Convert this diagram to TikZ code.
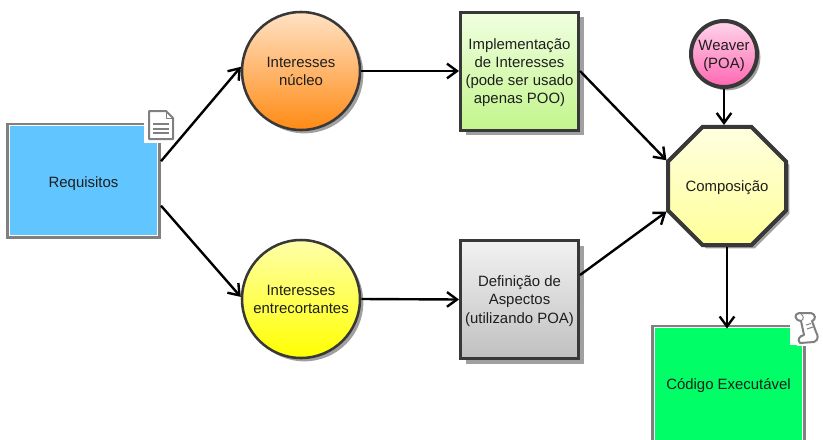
\documentclass[tikz,border=0pt]{standalone}
\usepackage{fontspec}
\setmainfont{Liberation Sans}
\usetikzlibrary{arrows.meta,shapes.geometric,shadows}

\definecolor{edgedark}{RGB}{56,56,56}
\definecolor{edgegray}{RGB}{128,128,128}
\definecolor{shadowgray}{RGB}{160,160,160}
\definecolor{textdark}{RGB}{30,30,30}

\tikzset{every picture/.style={line width=0.75pt}}
\tikzset{
	label font/.style={font=\fontsize{11.2pt}{13.6pt}\selectfont,text=textdark,align=center,text depth=0pt},
	filebox/.style={label font,draw=edgegray,line width=2.25pt,minimum width=114pt,minimum height=84.75pt,inner sep=0pt},
	ballnode/.style={label font,circle,draw=edgedark,line width=1.9pt,minimum size=88.5pt,inner sep=0pt,
		general shadow={fill=shadowgray,shadow xshift=2.5pt,shadow yshift=-2.5pt}},
	taskbox/.style={label font,draw=edgedark,line width=2.25pt,minimum width=88.5pt,minimum height=88.5pt,inner sep=0pt,
		general shadow={fill=shadowgray,shadow xshift=4pt,shadow yshift=-4pt}},
	link/.style={draw=black,line width=1.8pt,-{Straight Barb[length=7.5pt,width=11pt,line width=1.8pt]}},
	iconline/.style={draw=edgegray,line width=1.5pt,fill=white,line join=round}
}

\begin{document}
\begin{tikzpicture}[x=0.75pt,y=0.75pt,yscale=-1,xscale=1]
	\useasboundingbox (0,0) rectangle (823,439);

	% Text Node
	\node[filebox,text height=11pt,fill={rgb,255:red,97;green,197;blue,255}] (req) at (83.5,180.5) {Requisitos};
	\draw[white,line width=0.75pt] (9.5,125.5) rectangle (157.5,235);
	% Text Node
	\node[ballnode,top color={rgb,255:red,255;green,226;blue,196},bottom color={rgb,255:red,255;green,138;blue,20}] (nucleo) at (301,71) {Interesses\\núcleo};
	% Text Node
	\node[ballnode,top color={rgb,255:red,255;green,255;blue,170},bottom color={rgb,255:red,255;green,255;blue,0}] (entre) at (301,299) {Interesses\\entrecortantes};
	% Text Node
	\node[taskbox,top color={rgb,255:red,240;green,255;blue,224},bottom color={rgb,255:red,195;green,245;blue,140}] (impl) at (519.5,71) {Implementação\\de Interesses\\(pode ser usado\\apenas POO)};
	% Text Node
	\node[taskbox,top color={rgb,255:red,242;green,242;blue,242},bottom color={rgb,255:red,192;green,192;blue,192}] (aspect) at (519.5,299.5) {Definição de\\Aspectos\\(utilizando POA)};
	% Text Node
	\node[ballnode,line width=3pt,minimum size=49.5pt,top color={rgb,255:red,255;green,214;blue,235},bottom color={rgb,255:red,255;green,102;blue,178}] (weaver) at (724,54) {Weaver\\(POA)};
	% Text Node
	\node[label font,regular polygon,regular polygon sides=8,draw=edgedark,line width=3pt,minimum size=95.8pt,inner sep=0pt,
		top color={rgb,255:red,255;green,255;blue,224},bottom color={rgb,255:red,255;green,255;blue,153},
		general shadow={fill=shadowgray,shadow xshift=2.5pt,shadow yshift=-2.5pt}] (comp) at (727,186) {Composição};
	% Text Node
	\node[filebox,fill={rgb,255:red,0;green,255;blue,102},minimum height=87pt] (exe) at (728.5,384) {Código Executável};
	\draw[white,line width=0.75pt] (654.5,327.5) rectangle (802.5,460);

	%Shape: Document icon
	\fill[white] (144,108) rectangle (178,143);
	\draw[iconline] (149,111) -- (166,111) -- (173,118) -- (173,139) -- (149,139) -- cycle;
	\draw[edgegray,line width=0.75pt] (166,111) -- (166,118) -- (173,118);
	\draw[edgegray,line width=1.5pt] (153,124) -- (169,124) (153,128.5) -- (169,128.5) (153,133) -- (169,133);

	%Shape: Scroll icon
	\fill[white] (797,320) rectangle (810,346);
	\fill[white] (790,308) rectangle (823,345);
	\draw[iconline] (801,321) -- (804,335) .. controls (799,336) and (797,340) .. (800,343) -- (814,342) .. controls (819,340) and (818,335) .. (816,332) -- (812,321) .. controls (816,320) and (816,314) .. (811,313) -- (799,313) .. controls (794,314) and (794,320) .. (801,321) -- cycle;
	\draw[edgegray,line width=0.75pt] (801,314) .. controls (804,316) and (804,319) .. (801,321);
	\draw[edgegray,line width=0.75pt] (806,325) -- (811,323.5) (807,329) -- (813,327);

	%Straight Lines
	\draw[link] (req.14) -- (nucleo.176);
	\draw[link] (req.-18) -- (entre.178);
	\draw[link] (nucleo.east) -- (impl.west);
	\draw[link] (entre.east) -- (aspect.west);
	\draw[link] (impl.east) -- (comp.157);
	\draw[link] (aspect.22) -- (comp.203);
	\draw[link] (weaver.south) -- (weaver.south |- comp.north);
	\draw[link,shorten >=-3pt] (comp.south) -- (comp.south |- exe.north);
\end{tikzpicture}
\end{document}
